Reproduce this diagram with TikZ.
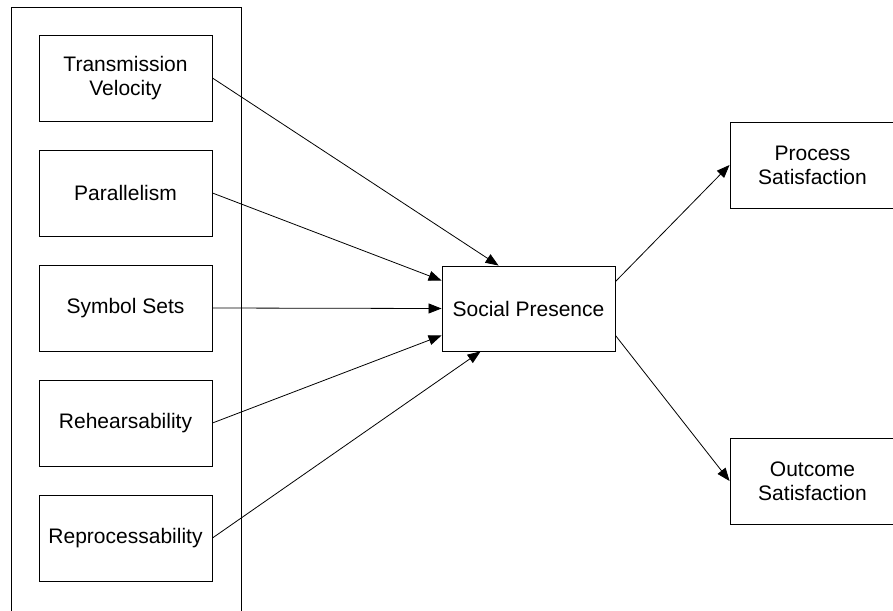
\documentclass[tikz,border=0pt]{standalone}
\usepackage{fontspec}
\setmainfont{Liberation Sans}
\usetikzlibrary{arrows.meta}
\begin{document}
\begin{tikzpicture}[x=1pt,y=-1pt,
  box/.style={draw, line width=0.9pt, minimum width=173pt, minimum height=86pt, inner sep=0pt, align=center, font=\fontsize{21}{24}\selectfont},
  arr/.style={line width=0.8pt, -{Triangle[length=13pt,width=10pt]}}]
\useasboundingbox (0,0) rectangle (893,610);
\draw[line width=0.9pt] (11,7) rectangle (241,625);
\node[box] (b1) at (125.5,78) {Transmission\\Velocity};
\node[box] (b2) at (125.5,193) {Parallelism};
\node[box] (b3) at (125.5,308) {Symbol Sets};
\node[box] (b4) at (125.5,423) {Rehearsability};
\node[box] (b5) at (125.5,538) {Reprocessability};
\node[box, minimum height=85pt] (sp) at (528.5,308.5) {Social Presence};
\node[box, minimum width=165pt] (ps) at (812.5,165) {Process\\Satisfaction};
\node[box, minimum width=165pt] (os) at (812.5,481) {Outcome\\Satisfaction};
\draw[arr] (b1.east) -- ([xshift=57pt]sp.north west);
\draw[arr] (b2.east) -- ([yshift=-15pt]sp.north west);
\draw[arr] (b3.east) -- (sp.west);
\draw[arr] (b4.east) -- ([yshift=16pt]sp.south west);
\draw[arr] (b5.east) -- ([xshift=39pt]sp.south west);
\draw[arr] ([yshift=-16pt]sp.north east) -- (ps.west);
\draw[arr] ([yshift=16pt]sp.south east) -- (os.west);
\end{tikzpicture}
\end{document}
